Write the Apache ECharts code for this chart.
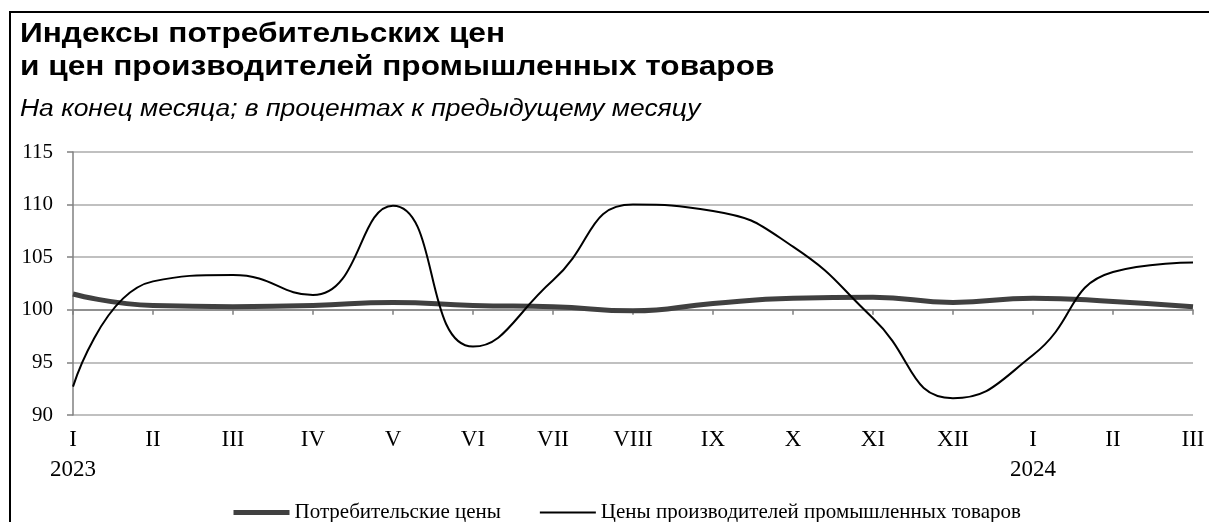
<!DOCTYPE html>
<html>
<head>
<meta charset="utf-8">
<script src="https://cdn.jsdelivr.net/npm/echarts@6/dist/echarts.min.js"></script>
<style>
html, body { margin: 0; padding: 0; background: #fff; }
#main { width: 1209px; height: 522px; }
</style>
</head>
<body>
<div id="main"></div>
<script>
"use strict";
// подписи по оси X
var months = ['I', 'II', 'III', 'IV', 'V', 'VI', 'VII', 'VIII', 'IX', 'X', 'XI', 'XII', 'I', 'II', 'III'];
var years = ['2023', '', '', '', '', '', '', '', '', '', '', '', '2024', '', ''];
// потребительские цены, % к предыдущему месяцу
var cpi = [101.5, 100.4, 100.3, 100.4, 100.7, 100.4, 100.3, 99.9, 100.6, 101.1, 101.2, 100.7, 101.1, 100.8, 100.3];
// цены производителей промышленных товаров
var ppi = [92.7, 102.7, 103.3, 101.4, 109.9, 96.5, 102.8, 110.0, 109.4, 106.0, 99.2, 91.6, 95.7, 103.6, 104.5];
var yTicks = [90, 115, 5];

var myChart = echarts.init(document.getElementById('main'));
var serif = 'Liberation Serif';
var gridTop = 152, gridBottom = 107;
var gridH = 522 - gridTop - gridBottom;
// ось с засечками проходит по уровню 100
var baseOffset = -gridH * (100 - yTicks[0]) / (yTicks[1] - yTicks[0]);

var option = {
    backgroundColor: '#fff',
    animation: false,
    graphic: [{
        type: 'rect',
        shape: { x: 10, y: 12, width: 1400, height: 700 },
        style: { fill: 'none', stroke: '#000', lineWidth: 2 },
        silent: true
    }, {
        // заголовок (в оригинале шрифт растянут по ширине)
        type: 'text',
        left: 20,
        top: 18,
        scaleX: 1.13,
        style: {
            text: 'Индексы потребительских цен\nи цен производителей промышленных товаров',
            font: 'bold 28px "Liberation Sans"',
            lineHeight: 33,
            fill: '#000'
        }
    }, {
        type: 'text',
        left: 20,
        top: 98,
        scaleX: 1.15,
        style: {
            text: 'На конец месяца; в процентах к предыдущему месяцу',
            font: 'italic 23px "Liberation Sans"',
            fill: '#000'
        }
    }],
    legend: {
        left: 226,
        top: 497,
        itemWidth: 56,
        itemHeight: 14,
        itemGap: 38,
        itemStyle: { opacity: 0 },
        textStyle: { fontFamily: serif, fontSize: 21, color: '#000' },
        data: [
            { name: 'Потребительские цены', lineStyle: { width: 5 } },
            { name: 'Цены производителей промышленных товаров', lineStyle: { width: 2 } }
        ]
    },
    grid: {
        left: 73,
        right: 16,
        top: gridTop,
        bottom: gridBottom
    },
    xAxis: [{
        type: 'category',
        boundaryGap: false,
        data: months,
        axisLine: { show: false },
        axisTick: { show: false },
        axisLabel: {
            margin: 10,
            fontFamily: serif,
            fontSize: 23,
            lineHeight: 30,
            color: '#000',
            formatter: function(value, idx) {
                return value + '\n' + years[idx];
            }
        }
    }, {
        type: 'category',
        boundaryGap: false,
        data: months,
        position: 'bottom',
        offset: baseOffset,
        axisLine: { show: true, lineStyle: { color: '#808080', width: 1.5 } },
        axisTick: { show: true, length: 5, interval: 0, lineStyle: { color: '#808080', width: 1.5 } },
        axisLabel: { show: false }
    }],
    yAxis: {
        type: 'value',
        min: yTicks[0],
        max: yTicks[1],
        interval: yTicks[2],
        axisLine: { show: true, lineStyle: { color: '#808080', width: 1.5 } },
        axisTick: { show: true, length: 6, lineStyle: { color: '#808080', width: 1.5 } },
        axisLabel: {
            margin: 20,
            fontFamily: serif,
            fontSize: 21,
            color: '#000'
        },
        splitLine: { show: true, lineStyle: { color: '#c0c0c0', width: 2 } }
    },
    series: [{
        name: 'Потребительские цены',
        type: 'line',
        data: cpi,
        smooth: 0.5,
        symbol: 'none',
        z: 3,
        lineStyle: { color: '#404040', width: 5 },
        itemStyle: { color: '#404040' }
    }, {
        name: 'Цены производителей промышленных товаров',
        type: 'line',
        data: ppi,
        smooth: 0.5,
        symbol: 'none',
        z: 4,
        lineStyle: { color: '#000', width: 2 },
        itemStyle: { color: '#000' }
    }]
};
myChart.setOption(option);
</script>
</body>
</html>
